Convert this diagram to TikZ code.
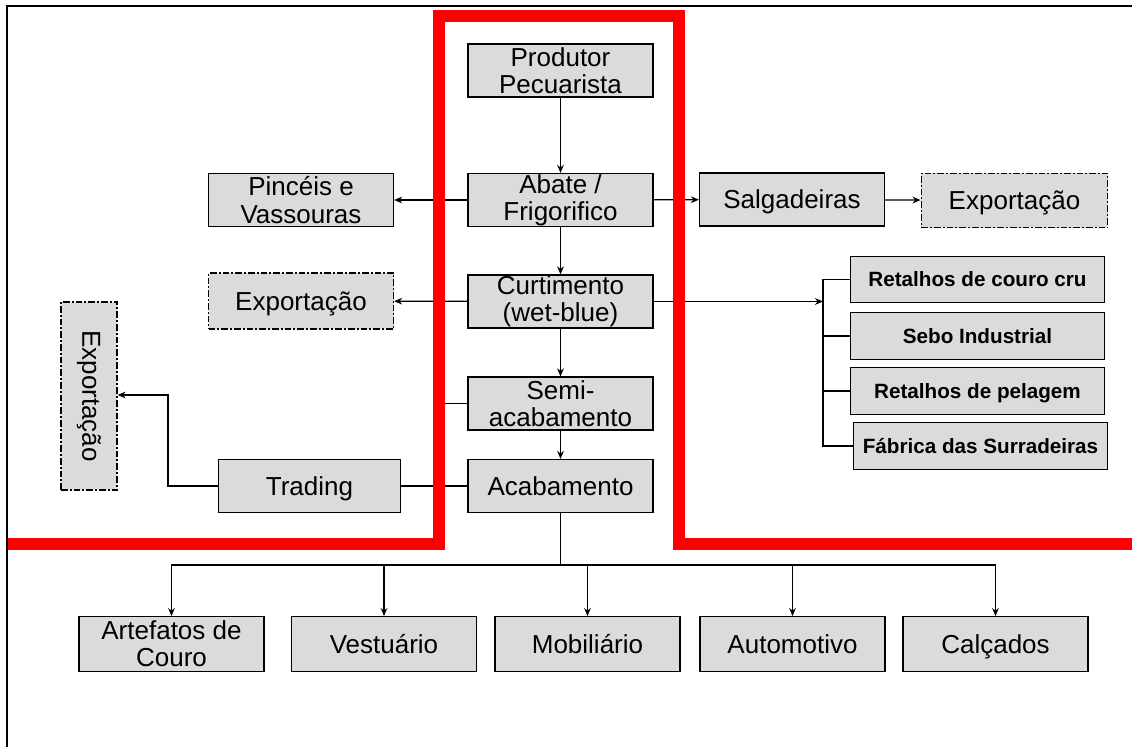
\documentclass[tikz,border=0pt]{standalone}
\usepackage{graphicx}
\usepackage{fontspec}
\setmainfont{Liberation Sans}
\usepackage{tikz}
\usetikzlibrary{positioning,arrows.meta,calc}
\definecolor{boxgray}{gray}{0.86}

\begin{document}
\begin{tikzpicture}[
  x=0.75pt,y=-0.75pt,
  >={Stealth[length=6pt,width=5pt]},
  etapa/.style={rectangle,draw,line width=0.9pt,fill=boxgray,minimum width=138.75pt,
                minimum height=39.75pt,inner sep=0pt,align=center,
                font=\fontsize{19.5}{20.5}\selectfont},
  umalinha/.style={text height=18pt,text depth=4pt},
  externo/.style={etapa,dash pattern={on 5pt off 1.5pt on 1.5pt off 1.5pt}},
  residuo/.style={rectangle,draw,line width=0.9pt,fill=boxgray,minimum width=191pt,
                  minimum height=35pt,inner sep=0pt,text height=14.6pt,text depth=3.5pt,
                  font=\fontsize{15.5}{17}\selectfont\bfseries},
  fluxo/.style={line width=1pt},
  seta/.style={fluxo,->}
]
  \useasboundingbox (0,0) rectangle (1132,747);

  % ---------- cadeia principal ----------
  \node[etapa] (prod) at (560.5,70.5) {Produtor\\Pecuarista};
  \node[etapa] (abate) at (560.5,200) {Abate /\\Frigorifico};
  \node[etapa] (curt) at (560.5,301.5) {Curtimento\\(wet-blue)};
  \node[etapa] (semi) at (560.5,403.5) {Semi-\\acabamento};
  \node[etapa,umalinha] (acab) at (560.5,486) {Acabamento};

  \draw[seta] (prod) -- (abate);
  \draw[seta] (abate) -- (curt);
  \draw[seta] (curt) -- (semi);
  \draw[seta] (semi) -- (acab);

  % ---------- lado esquerdo ----------
  \node[etapa] (pinc) at (301,200) {Pinc\'eis e\\Vassouras};
  \node[externo,umalinha,minimum height=42pt] (expE) at (301,301) {Exporta\c{c}\~ao};
  \node[externo,minimum width=42pt,minimum height=141pt] (expV) at (89,396)
    {\rotatebox{-90}{Exporta\c{c}\~ao}};
  \node[etapa,umalinha,minimum width=137pt] (trad) at (309.5,486) {Trading};

  \draw[seta] (abate) -- (pinc);
  \draw[seta] (curt) -- (expE);
  \coordinate (sj) at (439,486);
  \draw[fluxo] (semi.west) -| (sj);
  \draw[fluxo] (acab) -- (trad);
  \coordinate (tk) at (168,395);
  \draw[seta] (trad.west) -| (tk) -- (tk -| expV.east);

  % ---------- lado direito ----------
  \node[etapa,umalinha] (salg) at (792,199.5) {Salgadeiras};
  \node[externo,umalinha,minimum width=140pt,minimum height=41pt] (expD) at (1014.5,200.5) {Exporta\c{c}\~ao};
  \draw[seta] (abate) -- (salg);
  \draw[seta] (salg) -- (expD);

  \node[residuo] (ret1) at (977.5,279.5) {Retalhos de couro cru};
  \node[residuo] (sebo) at (977.5,336)   {Sebo Industrial};
  \node[residuo] (ret2) at (977.5,391)   {Retalhos de pelagem};
  \node[residuo,minimum width=190pt] (fab) at (980.5,446) {F\'abrica das Surradeiras};

  \coordinate (bk) at (823,301.5);
  \draw[seta] (curt) -- (bk);
  \draw[fluxo] (ret1.west) -| (bk) |- (fab.west);
  \draw[fluxo] (sebo.west) -- (sebo.west -| bk);
  \draw[fluxo] (ret2.west) -- (ret2.west -| bk);

  % ---------- destinos do couro acabado ----------
  \node[etapa,minimum height=41pt] (art)  at (171.5,644) {Artefatos de\\Couro};
  \node[etapa,umalinha,minimum height=41pt] (vest) at (384,644)   {Vestu\'ario};
  \node[etapa,umalinha,minimum height=41pt] (mob)  at (587.5,644) {Mobili\'ario};
  \node[etapa,umalinha,minimum height=41pt] (auto) at (792.5,644) {Automotivo};
  \node[etapa,umalinha,minimum height=41pt] (calc) at (995.5,644) {Cal\c{c}ados};

  \coordinate (bus) at (560.5,565);
  \draw[fluxo] (acab) -- (bus);
  \foreach \n in {art,vest,mob,auto,calc}
    \draw[seta] (bus) -| (\n.north);

  % moldura e limite em vermelho
  \draw[line width=2pt] (7,747) -- (7,6) -- (1132,6);
  \draw[red,line width=8.5pt] (8,544) -- (439,544) -- (439,16) -- (679,16)
    -- (679,544) -- (1132,544);
\end{tikzpicture}
\end{document}
